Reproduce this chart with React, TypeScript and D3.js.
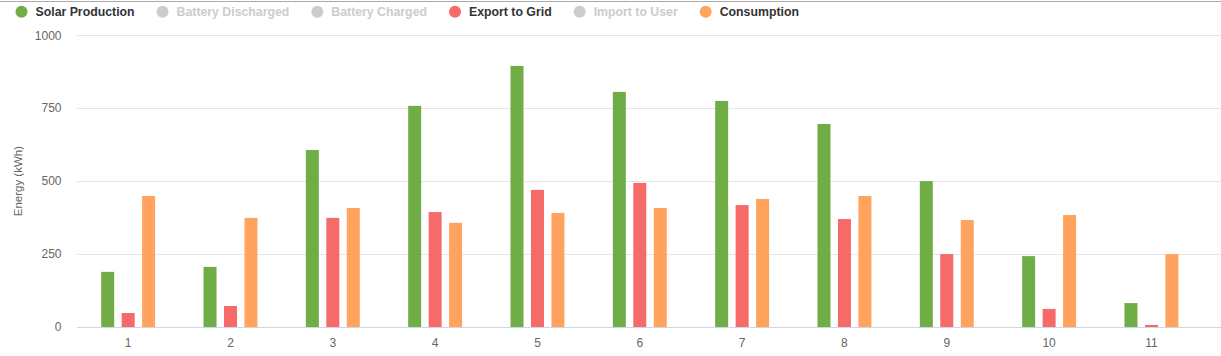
import React from "react";
import * as d3 from "d3";

const categories = ["1", "2", "3", "4", "5", "6", "7", "8", "9", "10", "11"];
const solarProduction = [189, 206, 607, 758, 895, 806, 775, 696, 500, 243, 82];
const exportToGrid = [48, 72, 374, 394, 470, 494, 418, 370, 250, 62, 7];
const consumption = [449, 374, 408, 357, 391, 408, 439, 449, 367, 384, 250];
const yTicks = [0, 250, 500, 750, 1000];

const legendNames = ["Solar Production", "Battery Discharged", "Battery Charged", "Export to Grid", "Import to User", "Consumption"];
const legendColors = ["#70ad47", "#cccccc", "#cccccc", "#f66a6a", "#cccccc", "#ffa35f"];
const legendVisible = [true, false, false, true, false, true];

const visibleSeries = [
  { name: "Solar Production", values: solarProduction, color: "#70ad47" },
  { name: "Export to Grid", values: exportToGrid, color: "#f66a6a" },
  { name: "Consumption", values: consumption, color: "#ffa35f" },
];

const W = 1221;
const H = 356;
const plotLeft = 77;
const plotRight = 1202.6;
const gridRight = 1221;
const plotTop = 35.3;
const plotBottom = 327;
const FONT = "'Liberation Sans', Arial, sans-serif";

function measure(text: string, font: string): number {
  const c = document.createElement("canvas");
  const ctx = c.getContext("2d")!;
  ctx.font = font;
  return ctx.measureText(text).width;
}

export default function App() {
  const x = d3.scaleBand<string>().domain(categories).range([plotLeft, plotRight]).paddingInner(0).paddingOuter(0);
  const y = d3.scaleLinear().domain([0, 1000]).range([plotBottom, plotTop]);
  const bw = x.bandwidth();
  const groupPad = 0.2;
  const slot = d3.scaleBand<number>()
    .domain(visibleSeries.map((_, i) => i))
    .range([bw * groupPad, bw * (1 - groupPad)]);
  const barW = 13;

  // legend layout
  const legendSize = 12.3;
  const legendFont = `bold ${legendSize}px ${FONT}`;
  let lx = 21.5;
  const legendItems = legendNames.map((name, i) => {
    const w = measure(name, legendFont);
    const item = { name, color: legendColors[i], visible: legendVisible[i], cx: lx, tx: lx + 14 };
    lx = lx + 14 + w + 28;
    return item;
  });

  return (
    <svg width={W} height={H} style={{ position: "absolute", left: 0, top: 0, background: "#fff" }} fontFamily={FONT}>
      <line x1={0} x2={W} y1={1.5} y2={1.5} stroke="#aaaaaa" strokeWidth={1} />
      {legendItems.map((it) => (
        <g key={it.name}>
          <circle cx={it.cx} cy={11.7} r={6} fill={it.color} />
          <text x={it.tx} y={16} fontSize={legendSize} fontWeight="bold" fill={it.visible ? "#333333" : "#cccccc"}>
            {it.name}
          </text>
        </g>
      ))}
      {yTicks.map((t) => (
        <g key={t}>
          {t !== 0 && (
            <line x1={plotLeft} x2={gridRight} y1={Math.round(y(t)) + 0.5} y2={Math.round(y(t)) + 0.5} stroke="#e6e6e6" strokeWidth={1} />
          )}
          <text x={61.5} y={y(t)} dy="0.35em" textAnchor="end" fontSize={12} fill="#666666">
            {t}
          </text>
        </g>
      ))}
      <text transform={`translate(21.5,${(plotTop + plotBottom) / 2}) rotate(-90)`} textAnchor="middle" fontSize={11.5} fill="#666666">
        Energy (kWh)
      </text>
      {visibleSeries.map((s, si) => (
        <g key={s.name}>
          {s.values.map((v, ci) => {
            const cx = (x(categories[ci]) as number) + (slot(si) as number) + slot.bandwidth() / 2;
            return <rect key={ci} x={cx - barW / 2} y={y(v)} width={barW} height={plotBottom - y(v)} fill={s.color} />;
          })}
        </g>
      ))}
      <line x1={plotLeft} x2={gridRight} y1={plotBottom + 0.5} y2={plotBottom + 0.5} stroke="#ccd6eb" strokeWidth={1} />
      {categories.map((c) => (
        <text key={c} x={(x(c) as number) + bw / 2} y={346.5} textAnchor="middle" fontSize={12} fill="#666666">
          {c}
        </text>
      ))}
    </svg>
  );
}
